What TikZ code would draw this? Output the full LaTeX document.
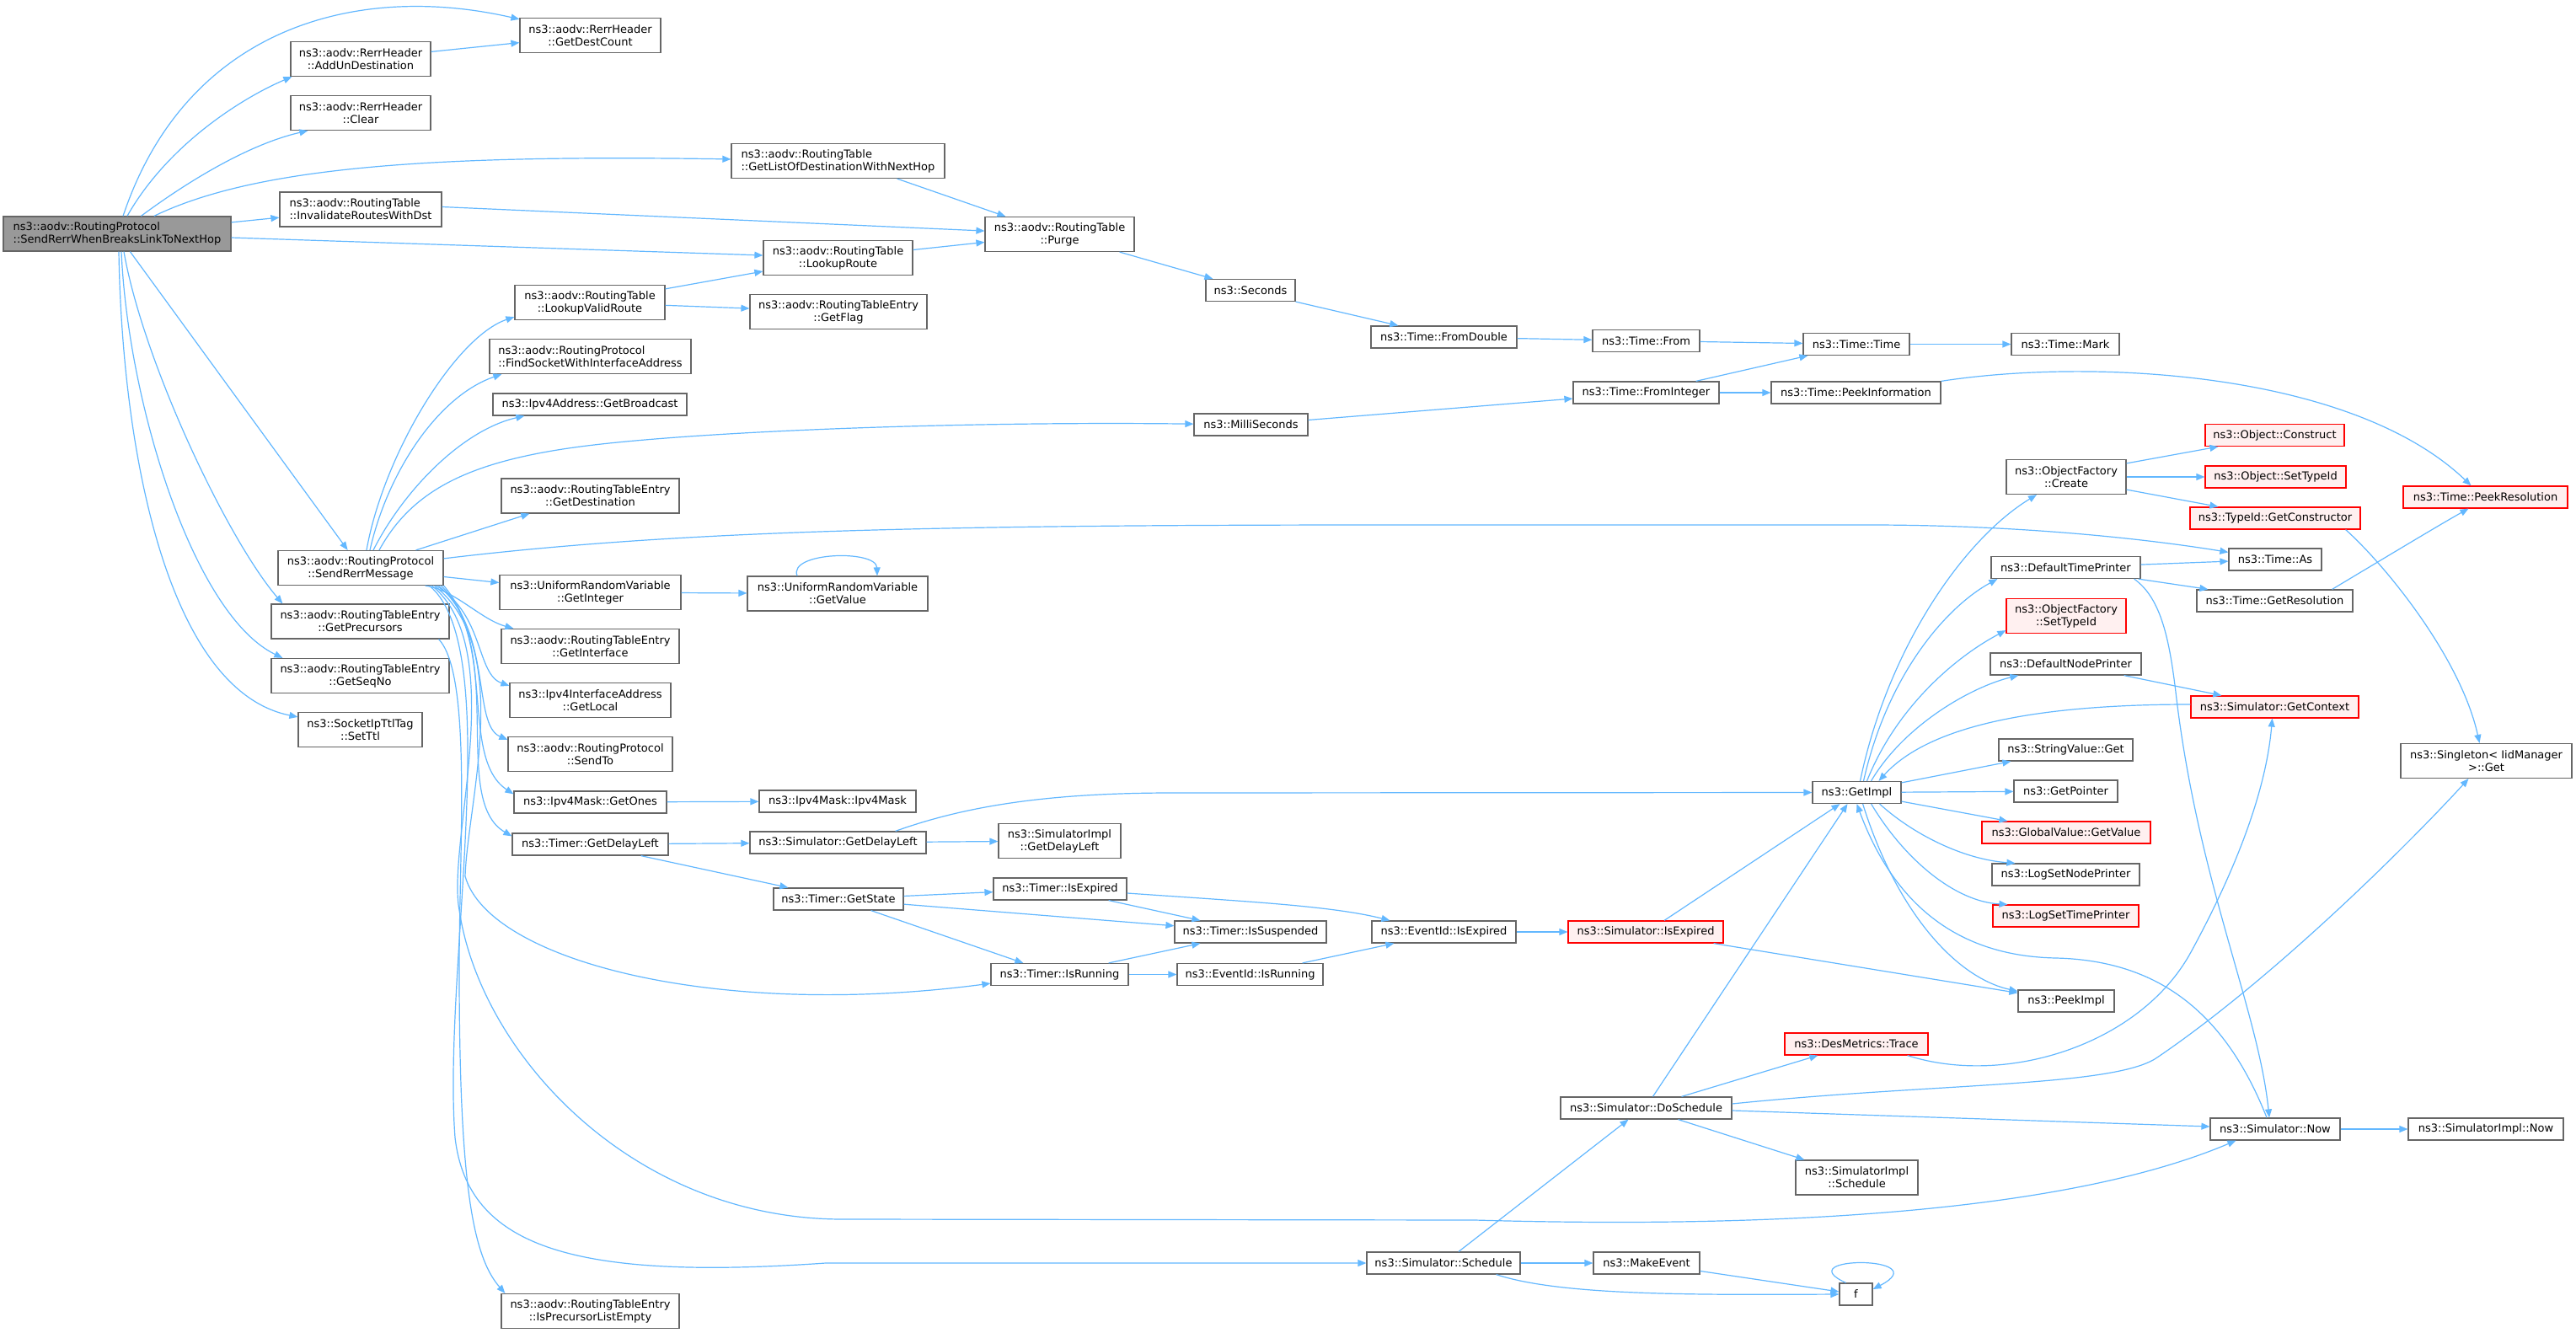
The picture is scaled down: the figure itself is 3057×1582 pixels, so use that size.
\documentclass[tikz,border=0pt]{standalone}
\usepackage{fontspec}
\setmainfont{DejaVu Sans}
\usetikzlibrary{arrows.meta}
\definecolor{edgec}{HTML}{63B8FF}
\definecolor{nodeb}{HTML}{666666}
\definecolor{rootf}{HTML}{999999}
\definecolor{redb}{HTML}{FF0000}
\definecolor{redf}{HTML}{FFF0F0}
\tikzset{
  box/.style={draw=nodeb, fill=white, line width=0.6pt, inner sep=0pt, align=center,
    font=\fontsize{6.5pt}{7.5pt}\selectfont},
  lbox/.style={box, align=left},
  rootbox/.style={lbox, fill=rootf},
  redbox/.style={box, draw=redb, fill=redf},
  sa/.style={minimum height=13pt},
  sb/.style={minimum height=20.5pt},
  edge/.style={draw=edgec, line width=0.6pt, -{Triangle[length=5pt,width=4pt]}}
}
\begin{document}
\begin{tikzpicture}[x=0.5pt,y=-0.5pt]
\fill[white] (0,0) rectangle (3057,1582);
\useasboundingbox (0,0) rectangle (3057,1582);
% nodes
\node[rootbox,sb,minimum width=135pt] (R) at (139,277.5) {ns3::aodv::RoutingProtocol\\::SendRerrWhenBreaksLinkToNextHop};
\node[box,sb,minimum width=83.5pt] (GDC) at (700.5,42) {ns3::aodv::RerrHeader\\::GetDestCount};
\node[box,sb,minimum width=83pt] (AUD) at (428,70) {ns3::aodv::RerrHeader\\::AddUnDestination};
\node[box,sb,minimum width=83pt] (CLR) at (428,134) {ns3::aodv::RerrHeader\\::Clear};
\node[lbox,sb,minimum width=126.5pt] (GLD) at (994.5,191) {ns3::aodv::RoutingTable\\::GetListOfDestinationWithNextHop};
\node[lbox,sb,minimum width=96pt] (IRD) at (428,248.5) {ns3::aodv::RoutingTable\\::InvalidateRoutesWithDst};
\node[box,sb,minimum width=88.5pt] (PUR) at (1257.5,278) {ns3::aodv::RoutingTable\\::Purge};
\node[box,sb,minimum width=88.5pt] (LR) at (994.5,306) {ns3::aodv::RoutingTable\\::LookupRoute};
\node[box,sb,minimum width=89pt] (LVR) at (700,359) {ns3::aodv::RoutingTable\\::LookupValidRoute};
\node[box,sb,minimum width=105pt] (GF) at (995,370) {ns3::aodv::RoutingTableEntry\\::GetFlag};
\node[box,sa,minimum width=53pt] (SEC) at (1484,344.5) {ns3::Seconds};
\node[lbox,sb,minimum width=119.5pt] (FSI) at (700.5,423) {ns3::aodv::RoutingProtocol\\::FindSocketWithInterfaceAddress};
\node[box,sa,minimum width=86.5pt] (FD) at (1713.5,400) {ns3::Time::FromDouble};
\node[box,sa,minimum width=63.5pt] (TFROM) at (1953.5,404.5) {ns3::Time::From};
\node[box,sa,minimum width=63pt] (TT) at (2203,408.5) {ns3::Time::Time};
\node[box,sa,minimum width=64pt] (TM) at (2451,408.5) {ns3::Time::Mark};
\node[box,sa,minimum width=86.5pt] (FI) at (1953.5,466) {ns3::Time::FromInteger};
\node[box,sa,minimum width=100.5pt] (PI) at (2202.5,466) {ns3::Time::PeekInformation};
\node[box,sa,minimum width=115pt] (GB) at (700,480) {ns3::Ipv4Address::GetBroadcast};
\node[box,sa,minimum width=67.5pt] (MS) at (1484.5,504) {ns3::MilliSeconds};
\node[redbox,sa,minimum width=82.5pt] (OC) at (2699.5,516.5) {ns3::Object::Construct};
\node[box,sb,minimum width=71pt] (OFC) at (2452,566) {ns3::ObjectFactory\\::Create};
\node[redbox,sa,minimum width=83.5pt] (OST) at (2700.5,566) {ns3::Object::SetTypeId};
\node[box,sb,minimum width=105.5pt] (GDST) at (700.5,588.5) {ns3::aodv::RoutingTableEntry\\::GetDestination};
\node[redbox,sa,minimum width=97.5pt] (PR) at (2949.5,590) {ns3::Time::PeekResolution};
\node[redbox,sa,minimum width=101pt] (TGC) at (2700,615) {ns3::TypeId::GetConstructor};
\node[box,sa,minimum width=55pt] (TAS) at (2700,664) {ns3::Time::As};
\node[box,sb,minimum width=98pt] (S) at (428,674) {ns3::aodv::RoutingProtocol\\::SendRerrMessage};
\node[box,sa,minimum width=88.5pt] (DTP) at (2451.5,673.5) {ns3::DefaultTimePrinter};
\node[box,sb,minimum width=107.5pt] (GI) at (700.5,703) {ns3::UniformRandomVariable\\::GetInteger};
\node[box,sb,minimum width=107pt] (GV) at (994,704.5) {ns3::UniformRandomVariable\\::GetValue};
\node[box,sa,minimum width=92.5pt] (TGR) at (2699.5,713) {ns3::Time::GetResolution};
\node[redbox,sb,minimum width=71pt] (OFS) at (2452,731) {ns3::ObjectFactory\\::SetTypeId};
\node[box,sb,minimum width=105.5pt] (GP) at (427.5,737.5) {ns3::aodv::RoutingTableEntry\\::GetPrecursors};
\node[box,sb,minimum width=105.5pt] (GIF) at (700.5,767) {ns3::aodv::RoutingTableEntry\\::GetInterface};
\node[box,sa,minimum width=89.5pt] (DNP) at (2451.5,788) {ns3::DefaultNodePrinter};
\node[box,sb,minimum width=105.5pt] (GSN) at (427.5,802) {ns3::aodv::RoutingTableEntry\\::GetSeqNo};
\node[box,sb,minimum width=95.5pt] (GL) at (700.5,831) {ns3::Ipv4InterfaceAddress\\::GetLocal};
\node[redbox,sa,minimum width=99.5pt] (GCX) at (2699.5,839) {ns3::Simulator::GetContext};
\node[box,sb,minimum width=73.5pt] (TTL) at (427.5,866) {ns3::SocketIpTtlTag\\::SetTtl};
\node[box,sb,minimum width=97.5pt] (ST) at (700.5,895) {ns3::aodv::RoutingProtocol\\::SendTo};
\node[box,sa,minimum width=79.5pt] (SVG) at (2451.5,890) {ns3::StringValue::Get};
\node[box,sb,minimum width=101.5pt] (SNG) at (2950.5,903) {ns3::Singleton< IidManager\\ >::Get};
\node[box,sa,minimum width=52.5pt] (GIM) at (2203.5,940.5) {ns3::GetImpl};
\node[box,sa,minimum width=61.5pt] (GPT) at (2451.5,939) {ns3::GetPointer};
\node[box,sa,minimum width=90.5pt] (GO) at (700.5,952) {ns3::Ipv4Mask::GetOnes};
\node[box,sa,minimum width=93pt] (IM) at (994,951) {ns3::Ipv4Mask::Ipv4Mask};
\node[redbox,sa,minimum width=100pt] (GGV) at (2452,988) {ns3::GlobalValue::GetValue};
\node[box,sb,minimum width=72.5pt] (SIGDL) at (1257.5,998) {ns3::SimulatorImpl\\::GetDelayLeft};
\node[box,sa,minimum width=92.5pt] (TGDL) at (700.5,1002) {ns3::Timer::GetDelayLeft};
\node[box,sa,minimum width=104.5pt] (SGDL) at (994.5,1000) {ns3::Simulator::GetDelayLeft};
\node[box,sa,minimum width=87.5pt] (LSNP) at (2451.5,1038) {ns3::LogSetNodePrinter};
\node[box,sa,minimum width=79pt] (TIE) at (1258,1055) {ns3::Timer::IsExpired};
\node[box,sa,minimum width=77pt] (GS) at (995,1067) {ns3::Timer::GetState};
\node[redbox,sa,minimum width=86.5pt] (LSTP) at (2451.5,1087) {ns3::LogSetTimePrinter};
\node[box,sa,minimum width=90pt] (TIS) at (1484,1106) {ns3::Timer::IsSuspended};
\node[box,sa,minimum width=85.5pt] (EIE) at (1713.5,1106) {ns3::EventId::IsExpired};
\node[redbox,sa,minimum width=92pt] (SIE) at (1953,1106) {ns3::Simulator::IsExpired};
\node[box,sa,minimum width=81.5pt] (TIR) at (1257.5,1156.5) {ns3::Timer::IsRunning};
\node[box,sa,minimum width=86.5pt] (EIR) at (1483.5,1156.5) {ns3::EventId::IsRunning};
\node[box,sa,minimum width=57pt] (PIM) at (2452,1188) {ns3::PeekImpl};
\node[redbox,sa,minimum width=85pt] (DMT) at (2203,1239) {ns3::DesMetrics::Trace};
\node[box,sa,minimum width=101.5pt] (DOS) at (1953.5,1315) {ns3::Simulator::DoSchedule};
\node[box,sa,minimum width=77pt] (SNOW) at (2700,1340) {ns3::Simulator::Now};
\node[box,sa,minimum width=92pt] (SINOW) at (2950,1340) {ns3::SimulatorImpl::Now};
\node[box,sb,minimum width=72.5pt] (SIS) at (2203.5,1397.5) {ns3::SimulatorImpl\\::Schedule};
\node[box,sa,minimum width=91pt] (SCH) at (1713,1499) {ns3::Simulator::Schedule};
\node[box,sa,minimum width=63pt] (ME) at (1954,1499) {ns3::MakeEvent};
\node[box,sa,minimum width=19.5pt] (F) at (2202.5,1536) {f};
\node[box,sb,minimum width=105.5pt] (IPLE) at (700.5,1556) {ns3::aodv::RoutingTableEntry\\::IsPrecursorListEmpty};
% edges from root
\draw[edge] (R) .. controls (220,35) and (420,-22) .. (GDC);
\draw[edge] (R) .. controls (200,170) and (290,115) .. ([shift={(2,0)}]AUD.south west);
\draw[edge] (R) .. controls (230,210) and (300,170) .. ([shift={(21,0)}]CLR.south west);
\draw[edge] (R) .. controls (300,200) and (500,183) .. (GLD);
\draw[edge] (R) -- (IRD);
\draw[edge] (R) -- (LR);
\draw[edge] (R) -- (S);
\draw[edge] ([shift={(8,0)}]R.south) .. controls (170,430) and (270,640) .. ([shift={(14,0)}]GP.north west);
\draw[edge] ([shift={(5,0)}]R.south) .. controls (152,480) and (230,730) .. ([shift={(14,0)}]GSN.north west);
\draw[edge] ([shift={(2,0)}]R.south) .. controls (145,540) and (200,820) .. ([shift={(0,6)}]TTL.north west);
% edges from SendRerrMessage
\draw[edge] ([shift={(7,0)}]S.north) .. controls (455,540) and (540,400) .. ([shift={(0,-4)}]LVR.south west);
\draw[edge] ([shift={(11,0)}]S.north) .. controls (460,560) and (520,470) .. ([shift={(15,0)}]FSI.south west);
\draw[edge] ([shift={(15,0)}]S.north) .. controls (480,580) and (550,510) .. ([shift={(38,0)}]GB.south west);
\draw[edge] ([shift={(22,0)}]S.north) .. controls (490,580) and (560,545) .. (705,528) .. controls (850,511) and (1150,500) .. (MS);
\draw[edge] ([shift={(-33,0)}]S.north east) -- ([shift={(34,0)}]GDST.south west);
\draw[edge] ([shift={(0,10)}]S.north east) .. controls (800,630) and (1100,623) .. (1650,623) -- (2217,623) .. controls (2400,623) and (2550,640) .. ([shift={(0,5)}]TAS.north west);
\draw[edge] (S) -- (GI);
\draw[edge] ([shift={(-22,0)}]S.south east) .. controls (540,700) and (570,735) .. ([shift={(15,0)}]GIF.north west);
\draw[edge] ([shift={(-9,0)}]S.south east) .. controls (575,730) and (565,800) .. ([shift={(0,4)}]GL.north west);
\draw[edge] ([shift={(-6,0)}]S.south east) .. controls (585,750) and (560,860) .. ([shift={(0,4)}]ST.north west);
\draw[edge] ([shift={(-3,0)}]S.south east) .. controls (590,760) and (545,900) .. ([shift={(0,4)}]GO.north west);
\draw[edge] (S.south east) .. controls (600,780) and (535,950) .. ([shift={(0,4)}]TGDL.north west);
\draw[edge] ([shift={(-11,0)}]S.south east) .. controls (610,770) and (555,950) .. (552,1040) .. controls (580,1140) and (850,1210) .. ([shift={(0,-3)}]TIR.south west);
\draw[edge] ([shift={(-14,0)}]S.south east) .. controls (605,770) and (530,1000) .. (545,1080) .. controls (570,1250) and (750,1447) .. (1000,1447) -- (1750,1448) .. controls (2100,1458) and (2450,1440) .. ([shift={(31,0)}]SNOW.south west);
\draw[edge] ([shift={(-17,0)}]S.south east) .. controls (600,770) and (525,1150) .. (540,1350) .. controls (555,1480) and (680,1520) .. (980,1499) -- (SCH);
\draw[edge] ([shift={(-13,0)}]GP.south east) .. controls (560,800) and (545,1000) .. (545,1150) .. controls (545,1400) and (560,1490) .. ([shift={(5,0)}]IPLE.north west);
% left-middle edges
\draw[edge] (AUD) -- (GDC);
\draw[edge] ([shift={(0,-3)}]IRD.east) -- (PUR);
\draw[edge] ([shift={(-57,0)}]GLD.south east) -- ([shift={(25,0)}]PUR.north west);
\draw[edge] (LR) -- (PUR);
\draw[edge] (LVR) -- (LR);
\draw[edge] (LVR) -- (GF);
\draw[edge] ([shift={(-18,0)}]PUR.south east) -- ([shift={(9,0)}]SEC.north west);
\draw[edge] (SEC.south east) -- ([shift={(33,0)}]FD.north west);
\draw[edge] (FD) -- (TFROM);
\draw[edge] (TFROM) -- (TT);
\draw[edge] (TT) -- (TM);
\draw[edge] (MS) -- (FI);
\draw[edge] ([shift={(-28,0)}]FI.north east) -- ([shift={(6,0)}]TT.south west);
\draw[edge] (FI) -- (PI);
\draw[edge] (PI.north east) .. controls (2480,425) and (2790,440) .. ([shift={(-17,0)}]PR.north);
\draw[edge] (GI) -- (GV);
\draw[edge] ([shift={(-48,0)}]GV.north) .. controls (935,655) and (1040,652) .. ([shift={(47,0)}]GV.north);
\draw[edge] (GO) -- (IM);
\draw[edge] (TGDL) -- (SGDL);
\draw[edge] ([shift={(-33,0)}]TGDL.south east) -- ([shift={(18,0)}]GS.north west);
\draw[edge] (SGDL) -- (SIGDL);
\draw[edge] ([shift={(-37,0)}]SGDL.north east) .. controls (1150,955) and (1250,941) .. (1392,941) -- (GIM);
\draw[edge] (GS) -- (TIE);
\draw[edge] (GS) -- (TIS);
\draw[edge] ([shift={(-39,0)}]GS.south east) -- ([shift={(39,0)}]TIR.north west);
\draw[edge] ([shift={(-22,0)}]TIE.south east) -- ([shift={(31,0)}]TIS.north west);
\draw[edge] ([shift={(0,5)}]TIE.east) .. controls (1480,1070) and (1580,1075) .. ([shift={(22,0)}]EIE.north west);
\draw[edge] ([shift={(-24,0)}]TIR.north east) -- ([shift={(31,0)}]TIS.south west);
\draw[edge] (TIR) -- (EIR);
\draw[edge] ([shift={(-25,0)}]EIR.north east) -- ([shift={(27,0)}]EIE.south west);
\draw[edge] (EIE) -- (SIE);
\draw[edge] ([shift={(22,0)}]SIE.north) -- ([shift={(-20,0)}]GIM.south);
\draw[edge] ([shift={(-12,0)}]SIE.south east) -- ([shift={(0,4)}]PIM.north west);
\draw[edge] ([shift={(8,0)}]DOS.north) -- ([shift={(-11,0)}]GIM.south);
\draw[edge] ([shift={(42,0)}]DOS.north) -- ([shift={(40,0)}]DMT.south west);
\draw[edge] ([shift={(38,0)}]DOS.south) -- ([shift={(11,0)}]SIS.north west);
\draw[edge] ([shift={(0,3)}]DOS.east) -- ([shift={(0,-3)}]SNOW.west);
\draw[edge] ([shift={(0,-5)}]DOS.east) .. controls (2300,1285) and (2510,1290) .. (2560,1255) .. controls (2700,1160) and (2860,1000) .. ([shift={(-21,0)}]SNG.south);
\draw[edge] ([shift={(-25,0)}]DMT.south east) .. controls (2380,1290) and (2540,1240) .. (2600,1130) .. controls (2660,1020) and (2690,930) .. ([shift={(-3,0)}]GCX.south);
\draw[edge] ([shift={(18,0)}]SCH.north) -- ([shift={(-21,0)}]DOS.south);
\draw[edge] (SCH) -- (ME);
\draw[edge] ([shift={(-29,0)}]SCH.south east) .. controls (1850,1537) and (2000,1537) .. (F.west);
\draw[edge] (ME) -- (F);
\draw[edge] ([shift={(-12,0)}]F.north) .. controls (2120,1490) and (2300,1490) .. ([shift={(0,-6)}]F.east);
\draw[edge] (SNOW) -- (SINOW);
% GetImpl area
\draw[edge] ([shift={(4,0)}]GIM.north) .. controls (2240,770) and (2330,640) .. ([shift={(-35,0)}]OFC.south);
\draw[edge] ([shift={(8,0)}]GIM.north) .. controls (2240,800) and (2310,720) .. ([shift={(8,0)}]DTP.south west);
\draw[edge] ([shift={(12,0)}]GIM.north) .. controls (2250,840) and (2320,780) .. ([shift={(0,-4)}]OFS.south west);
\draw[edge] ([shift={(17,0)}]GIM.north) .. controls (2260,860) and (2340,815) .. ([shift={(34,0)}]DNP.south west);
\draw[edge] ([shift={(0,-3)}]GCX.west) .. controls (2420,836) and (2290,860) .. ([shift={(26,0)}]GIM.north);
\draw[edge] ([shift={(0,2)}]GIM.north east) -- ([shift={(15,0)}]SVG.south west);
\draw[edge] (GIM) -- (GPT);
\draw[edge] ([shift={(0,-3)}]GIM.south east) -- ([shift={(31,0)}]GGV.north west);
\draw[edge] ([shift={(-26,0)}]GIM.south east) .. controls (2270,990) and (2330,1020) .. ([shift={(28,0)}]LSNP.north west);
\draw[edge] ([shift={(-36,0)}]GIM.south east) .. controls (2260,1020) and (2320,1070) .. ([shift={(18,0)}]LSTP.north west);
\draw[edge] ([shift={(-46,0)}]GIM.south east) .. controls (2250,1080) and (2320,1160) .. ([shift={(0,2)}]PIM.north west);
\draw[edge] ([shift={(-10,0)}]SNOW.north) .. controls (2640,1200) and (2560,1140) .. (2440,1137) .. controls (2330,1135) and (2250,1080) .. (GIM.south);
\draw[edge] (DTP) -- (TAS);
\draw[edge] ([shift={(-3,0)}]DTP.south east) -- ([shift={(14,0)}]TGR.north west);
\draw[edge] ([shift={(-8,0)}]DTP.south east) .. controls (2565,710) and (2575,760) .. (2583,830) .. controls (2610,1050) and (2680,1200) .. ([shift={(-7,0)}]SNOW.north);
\draw[edge] ([shift={(-25,0)}]TGR.north east) .. controls (2850,650) and (2900,620) .. ([shift={(-20,0)}]PR.south);
\draw[edge] ([shift={(0,5)}]OFC.north east) -- ([shift={(16,0)}]OC.south west);
\draw[edge] (OFC) -- (OST);
\draw[edge] ([shift={(0,-6)}]OFC.south east) -- ([shift={(34,0)}]TGC.north west);
\draw[edge] ([shift={(-18,0)}]TGC.south east) .. controls (2830,670) and (2920,780) .. ([shift={(-8,0)}]SNG.north);
\draw[edge] ([shift={(-21,0)}]DNP.south east) -- ([shift={(37,0)}]GCX.north west);
\end{tikzpicture}
\end{document}
